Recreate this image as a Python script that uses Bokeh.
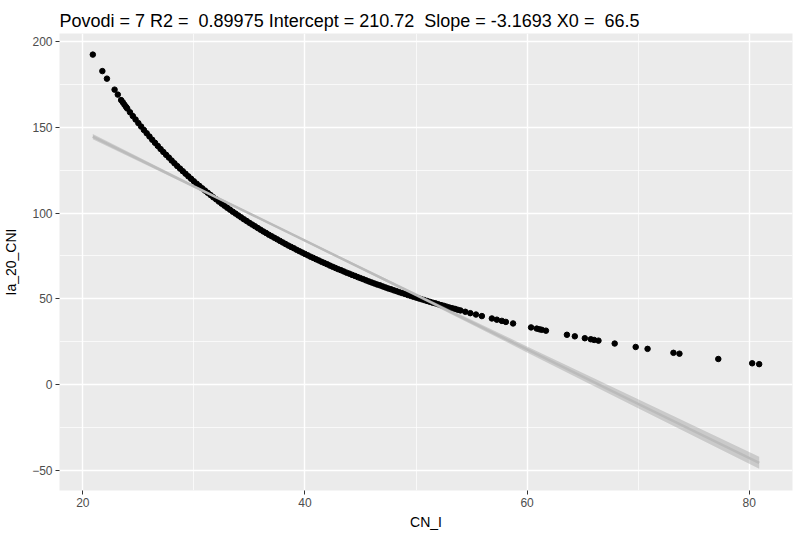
from bokeh.plotting import figure
from bokeh.models import FixedTicker, ColumnDataSource
from bokeh.embed import file_html
from bokeh.resources import INLINE

# ---- data ----
cn_i = [20.9, 21.76, 22.17, 22.86, 23.15, 23.45, 23.6, 23.75, 23.9,
        24.0, 24.25, 24.5, 24.75, 25.0, 25.25, 25.5, 25.75, 26.0, 26.25, 26.5, 26.75,
        27.0, 27.25, 27.5, 27.75, 28.0, 28.25, 28.5, 28.75, 29.0, 29.25, 29.5, 29.75,
        30.0, 30.25, 30.5, 30.75, 31.0, 31.25, 31.5, 31.75, 32.0, 32.25, 32.5, 32.75,
        33.0, 33.25, 33.5, 33.75, 34.0, 34.25, 34.5, 34.75, 35.0, 35.25, 35.5, 35.75,
        36.0, 36.25, 36.5, 36.75, 37.0, 37.25, 37.5, 37.75, 38.0, 38.25, 38.5, 38.75,
        39.0, 39.25, 39.5, 39.75, 40.0, 40.25, 40.5, 40.75, 41.0, 41.25, 41.5, 41.75,
        42.0, 42.25, 42.5, 42.75, 43.0, 43.25, 43.5, 43.75, 44.0, 44.25, 44.5, 44.75,
        45.0, 45.25, 45.5, 45.75, 46.0, 46.25, 46.5, 46.75, 47.0, 47.25, 47.5, 47.75,
        48.0, 48.25, 48.5, 48.75, 49.0, 49.25, 49.5, 49.75, 50.0, 50.25, 50.5, 50.75,
        51.0, 51.25, 51.5, 51.75, 52.0, 52.25, 52.5, 52.75, 53.0, 53.25, 53.5, 53.75,
        54.0, 54.44, 54.89, 55.4, 55.93, 56.83, 57.28, 57.73, 58.09, 58.74, 60.36,
        60.87, 61.11, 61.32, 61.7, 63.59, 64.3, 65.2, 65.74, 66.04, 66.43, 67.89,
        69.78, 70.85, 73.18, 73.72, 77.22, 80.27, 80.9]

ia_20_cni = [192.3, 182.7, 178.3, 171.9, 169.0, 165.8, 164.5, 163.1, 161.8,
             160.9, 158.7, 156.5, 154.5, 152.4, 150.4, 148.4, 146.5, 144.6, 142.7, 140.9, 139.1,
             137.3, 135.6, 133.9, 132.3, 130.6, 129.0, 127.4, 125.9, 124.4, 122.9, 121.4, 120.0,
             118.5, 117.1, 115.8, 114.4, 113.1, 111.8, 110.5, 109.2, 108.0, 106.7, 105.5, 104.3,
             103.1, 102.0, 100.8, 99.7, 98.6, 97.5, 96.4, 95.4, 94.3, 93.3, 92.3, 91.3,
             90.3, 89.3, 88.4, 87.4, 86.5, 85.6, 84.7, 83.8, 82.9, 82.0, 81.1, 80.3,
             79.5, 78.6, 77.8, 77.0, 76.2, 75.4, 74.6, 73.9, 73.1, 72.4, 71.6, 70.9,
             70.2, 69.4, 68.7, 68.0, 67.3, 66.7, 66.0, 65.3, 64.7, 64.0, 63.4, 62.7,
             62.1, 61.5, 60.8, 60.2, 59.6, 59.0, 58.4, 57.9, 57.3, 56.7, 56.1, 55.6,
             55.0, 54.5, 53.9, 53.4, 52.9, 52.3, 51.8, 51.3, 50.8, 50.3, 49.8, 49.3,
             48.8, 48.3, 47.8, 47.4, 46.9, 46.4, 46.0, 45.5, 45.0, 44.6, 44.2, 43.7,
             43.3, 42.5, 41.7, 40.9, 40.0, 38.6, 37.9, 37.2, 36.6, 35.7, 33.4,
             32.7, 32.3, 32.0, 31.5, 29.1, 28.2, 27.1, 26.5, 26.1, 25.7, 24.0,
             22.0, 20.9, 18.6, 18.1, 15.0, 12.5, 12.0]

# fitted line (lm) and its confidence band, as read
fit_x = [20.9, 30.0, 39.0, 50.0, 60.0, 70.0, 80.9]
fit_y = [144.5, 115.6, 87.1, 52.3, 20.6, -11.1, -45.5]
band_lower = [143.0, 114.8, 86.6, 51.35, 18.85, -13.7, -49.0]
band_upper = [146.0, 116.4, 87.6, 53.25, 22.35, -8.5, -42.0]

# double spaces of the original kept with a no-break space
title_text = "Povodi = 7 R2 = \u00a00.89975 Intercept = 210.72 \u00a0Slope = -3.1693 X0 = \u00a066.5"
x_ticks = [20, 40, 60, 80]
x_minor = [30, 50, 70]
y_ticks = [-50, 0, 50, 100, 150, 200]
y_minor = [-25, 25, 75, 125, 175]

FONT = "Liberation Sans"

p = figure(width=799, height=536, output_backend="svg", toolbar_location=None,
           x_range=(17.9, 83.9), y_range=(-61.6, 204.6),
           min_border_left=57, min_border_right=7, min_border_top=33, min_border_bottom=46,
           background_fill_color="#EBEBEB", border_fill_color="white", outline_line_color=None)

p.title.text = title_text
p.title.text_font = FONT
p.title.text_font_size = "18px"
p.title.text_font_style = "normal"
p.title.text_color = "black"
p.title.offset = 0
p.title.standoff = 6

for ax in (p.xaxis[0], p.yaxis[0]):
    ax.axis_line_color = None
    ax.major_tick_line_color = "#333333"
    ax.major_tick_in = 0
    ax.major_tick_out = 4
    ax.minor_tick_line_color = None
    ax.major_label_text_font = FONT
    ax.major_label_text_font_size = "12px"
    ax.major_label_text_color = "#4D4D4D"
    ax.axis_label_text_font = FONT
    ax.axis_label_text_font_size = "14px"
    ax.axis_label_text_font_style = "normal"
    ax.axis_label_text_color = "black"
    ax.major_label_standoff = 3

p.xaxis.ticker = FixedTicker(ticks=x_ticks, minor_ticks=x_minor)
p.yaxis.ticker = FixedTicker(ticks=y_ticks, minor_ticks=y_minor)
p.xaxis.axis_label = "CN_I"
p.yaxis.axis_label = "Ia_20_CNI"
p.xaxis.axis_label_standoff = 4
p.yaxis.axis_label_standoff = 10

for g in (p.xgrid[0], p.ygrid[0]):
    g.grid_line_color = "white"
    g.grid_line_width = 1.4
    g.minor_grid_line_color = "white"
    g.minor_grid_line_width = 0.7

src = ColumnDataSource(dict(x=cn_i, y=ia_20_cni))
p.scatter("x", "y", source=src, size=5.5, color="black", line_color="black")

band = ColumnDataSource(dict(x=fit_x, lo=band_lower, hi=band_upper, y=fit_y))
p.varea(x="x", y1="lo", y2="hi", source=band, fill_color="#999999", fill_alpha=0.4)
p.line(x="x", y="y", source=band, line_color="#BBBBBB", line_width=2.5)

open("out.html", "w").write(file_html(p, INLINE))
